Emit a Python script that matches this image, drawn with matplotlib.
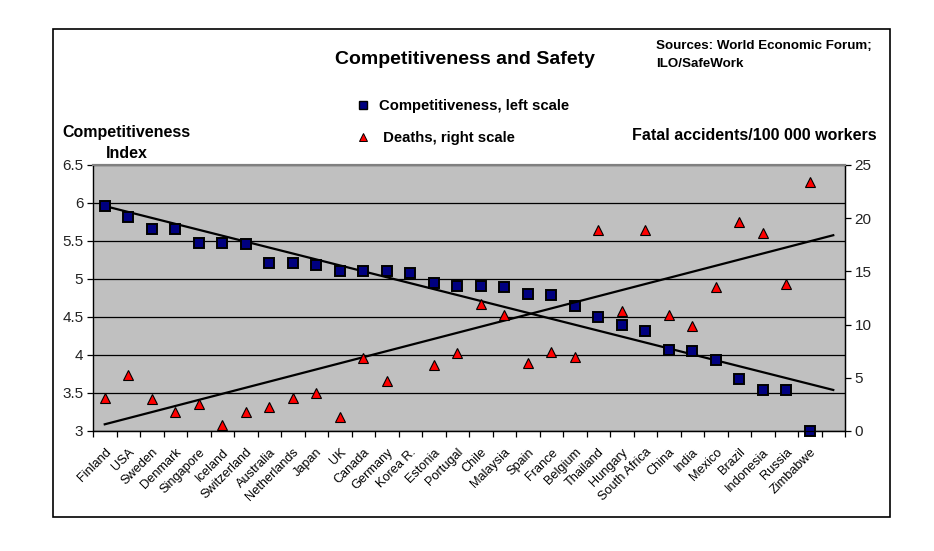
import numpy as np
import matplotlib.pyplot as plt
from matplotlib.lines import Line2D
from matplotlib.patches import Rectangle
from matplotlib.ticker import FormatStrFormatter

plt.rcParams['font.family'] = ['Liberation Sans', 'DejaVu Sans']

countries = ['Finland', 'USA', 'Sweden', 'Denmark', 'Singapore', 'Iceland',
             'Switzerland', 'Australia', 'Netherlands', 'Japan', 'UK', 'Canada',
             'Germany', 'Korea R.', 'Estonia', 'Portugal', 'Chile', 'Malaysia',
             'Spain', 'France', 'Belgium', 'Thailand', 'Hungary', 'South Africa',
             'China', 'India', 'Mexico', 'Brazil', 'Indonesia', 'Russia', 'Zimbabwe']

# competitiveness index (left scale)
competitiveness = [5.96, 5.81, 5.66, 5.66, 5.48, 5.48, 5.46, 5.21, 5.21, 5.18,
                   5.11, 5.10, 5.10, 5.08, 4.95, 4.91, 4.91, 4.90, 4.80, 4.79,
                   4.64, 4.50, 4.39, 4.32, 4.07, 4.05, 3.93, 3.69, 3.54, 3.54, 3.00]

# fatal accidents per 100 000 workers (right scale), no value for Korea
deaths = [3.1, 5.3, 3.0, 1.8, 2.5, 0.56, 1.75, 2.25, 3.07, 3.6,
          1.35, 6.9, 4.73, np.nan, 6.2, 7.3, 11.9, 10.9, 6.4, 7.4,
          7.0, 18.9, 11.3, 18.9, 10.9, 9.87, 13.5, 19.6, 18.6, 13.8, 23.4]

# trend lines, read at first and last category slot (one blank slot after Zimbabwe)
trend_slots = [0, 31]
comp_trend = [5.96, 3.54]
death_trend = [0.63, 18.4]

n_slots = 32

fig = plt.figure(figsize=(9.34, 5.51), dpi=100)
ax = fig.add_axes([93/934, 1 - 431/551, (845 - 93)/934, (431 - 165)/551])
ax2 = ax.twinx()

x = np.arange(len(countries))

ax.set_facecolor('#C0C0C0')
ax.plot(x, competitiveness, 's', color='#000080', mec='black', ms=6.5, mew=1.4,
        zorder=3, clip_on=False)
ax.plot(trend_slots, comp_trend, '-', color='black', lw=1.6, zorder=2)

ax2.plot(x, deaths, '^', color='#FF0000', mec='black', ms=7, mew=0.8,
         zorder=3, clip_on=False)
ax2.plot(trend_slots, death_trend, '-', color='black', lw=1.6, zorder=2)

ax.set_xlim(-0.5, n_slots - 0.5)
ax.set_ylim(3, 6.5)
ax.set_yticks(np.arange(3, 6.51, 0.5))
ax.yaxis.set_major_formatter(FormatStrFormatter('%g'))
ax2.set_ylim(0, 25)
ax2.set_yticks([0, 5, 10, 15, 20, 25])

ax.set_axisbelow(True)
ax.yaxis.grid(True, color='black', lw=0.9)

ax.set_xticks(np.arange(-0.5, n_slots, 1))
ax.set_xticklabels([])
ax.set_xticks(x, countries, minor=True, rotation=45, ha='right',
              rotation_mode='anchor', fontsize=9.2)
ax.tick_params(axis='x', which='major', direction='out', length=4, width=0.9)
ax.tick_params(axis='x', which='minor', length=0, pad=11)

tkw = dict(direction='out', length=4, width=0.9, labelsize=11, pad=3,
           labelcolor='#222222')
ax.tick_params(axis='y', **tkw)
ax2.tick_params(axis='y', **tkw)

for a in (ax, ax2):
    a.spines['top'].set_color('#808080')
    a.spines['top'].set_linewidth(1.5)
    for s in ('left', 'right', 'bottom'):
        a.spines[s].set_color('black')
        a.spines[s].set_linewidth(0.9)
ax.spines['left'].set_color('#555555')

# outer chart frame
fig.patches.append(Rectangle((53/934, 1 - 517/551), (890 - 53)/934, (517 - 29)/551,
                             transform=fig.transFigure, fill=False,
                             edgecolor='black', lw=1.2))

fig.text(465/934, 1 - 59/551, 'Competitiveness and Safety', ha='center',
         va='center', fontsize=14, fontweight='bold')
fig.text(656/934, 1 - 46/551, 'Sources: World Economic Forum;', ha='left',
         va='center', fontsize=9.6, fontweight='bold')
fig.text(656/934, 1 - 64/551, 'ILO/SafeWork', ha='left',
         va='center', fontsize=9.6, fontweight='bold')
fig.text(62/934, 1 - 132/551, 'Competitiveness', ha='left', va='center',
         fontsize=11.5, fontweight='bold')
fig.text(106/934, 1 - 153/551, 'Index', ha='left', va='center',
         fontsize=11.5, fontweight='bold')
fig.text(877/934, 1 - 135/551, 'Fatal accidents/100 000 workers', ha='right',
         va='center', fontsize=11.5, fontweight='bold')

handles = [Line2D([], [], ls='none', marker='s', color='#000080', mec='black',
                  ms=5.5, mew=1.0),
           Line2D([], [], ls='none', marker='^', color='#FF0000', mec='black',
                  ms=5.5, mew=0.7)]
fig.legend(handles, ['Competitiveness, left scale', ' Deaths, right scale'],
           loc='center left', bbox_to_anchor=(348/934, 1 - 122/551),
           frameon=False, prop=dict(size=10.7, weight='bold'),
           handlelength=1.0, handletextpad=0.6, labelspacing=1.25, borderpad=0)

plt.savefig('out.png', dpi=100)
